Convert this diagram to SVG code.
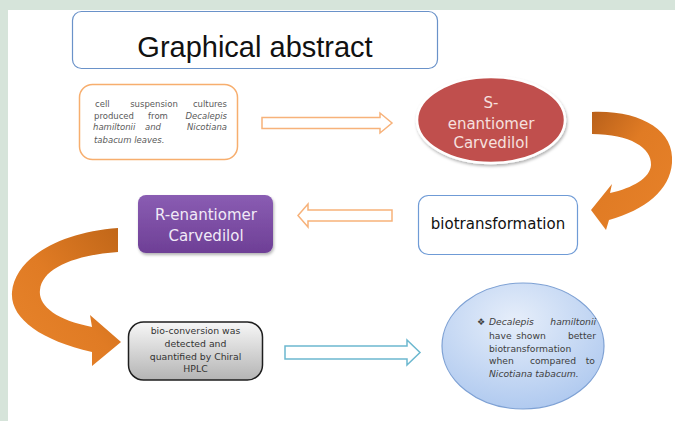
<svg xmlns="http://www.w3.org/2000/svg" width="675" height="421" viewBox="0 0 675 421">
<defs>
<style>
.sm{font-family:"DejaVu Sans",sans-serif;font-size:8.5px;fill:#5a5a5a}
.el{font-family:"DejaVu Sans",sans-serif;font-size:9.2px;fill:#404040}
.big{font-family:"DejaVu Sans",sans-serif;font-size:15px}
.it{font-style:italic}
.hollowO{fill:#fff;stroke:#f7b27a;stroke-width:1.5}
.hollowB{fill:#fff;stroke:#6cb8cf;stroke-width:1.5}
</style>
<linearGradient id="orgR" x1="0" y1="0" x2="1" y2="1">
<stop offset="0" stop-color="#b8601a"/><stop offset="0.4" stop-color="#e07b24"/><stop offset="1" stop-color="#e8822a"/>
</linearGradient>
<linearGradient id="orgL" x1="1" y1="0" x2="0" y2="1">
<stop offset="0" stop-color="#c06618"/><stop offset="0.5" stop-color="#e07b24"/><stop offset="1" stop-color="#e8852c"/>
</linearGradient>
<linearGradient id="purp" x1="0" y1="0" x2="0" y2="1">
<stop offset="0" stop-color="#8a5db3"/><stop offset="1" stop-color="#6e3f96"/>
</linearGradient>
<linearGradient id="gray" x1="0" y1="0" x2="0" y2="1">
<stop offset="0" stop-color="#f7f7f7"/><stop offset="1" stop-color="#b4b4b4"/>
</linearGradient>
<radialGradient id="blue" cx="0.45" cy="0.3" r="0.8">
<stop offset="0" stop-color="#e6eefa"/><stop offset="1" stop-color="#a9c5ee"/>
</radialGradient>
<filter id="sh" x="-20%" y="-20%" width="140%" height="150%">
<feDropShadow dx="1" dy="2" stdDeviation="1.5" flood-color="#000" flood-opacity="0.3"/>
</filter>
</defs>
<rect x="0" y="0" width="675" height="421" fill="#d6e4da"/>
<rect x="8" y="10" width="667" height="411" fill="#ffffff"/>

<g id="title">
<rect x="72.5" y="11.5" width="365" height="57" rx="9" fill="#fff" stroke="#6a92c9" stroke-width="1.2"/>
<text x="255" y="57" text-anchor="middle" font-family="Liberation Sans, Arial, sans-serif" font-size="29" fill="#111">Graphical abstract</text>
</g>

<g id="connectors">
<path class="hollowO" d="M262,117.5 L380,117.5 L380,113 L392,123 L380,133 L380,128.5 L262,128.5 Z"/>
<path class="hollowO" d="M392,210 L308,210 L308,204 L298,215.5 L308,227 L308,221 L392,221 Z"/>
<path class="hollowB" d="M285,346 L407,346 L407,340 L420,352.5 L407,365 L407,359 L285,359 Z"/>
<path fill="url(#orgR)" d="M592,112 C640,110 675,130 672,163 C670,190 645,210 609,220 L606,230 L591,210 L612,184 L610,193 C633,188 650,178 651,165 C652,148 630,134 592,134 Z"/>
<path fill="url(#orgL)" d="M118,228 C60,232 15,258 12,292 C10,318 40,340 92,352 L92,366 L121,342 L90,315 L92,327 C55,320 38,305 40,290 C42,268 75,255 118,252 Z"/>
</g>

<g id="cell-cultures">
<rect x="79.5" y="84.5" width="158" height="75" rx="13" fill="#fff" stroke="#f7ae6e" stroke-width="1.5"/>
<text class="sm" x="95" y="107">cell</text>
<text class="sm" x="154" y="107" text-anchor="middle">suspension</text>
<text class="sm" x="227" y="107" text-anchor="end">cultures</text>
<text class="sm" x="94" y="119">produced</text>
<text class="sm" x="158" y="119" text-anchor="middle">from</text>
<text class="sm it" x="227" y="119" text-anchor="end">Decalepis</text>
<text class="sm it" x="93" y="130">hamiltonii</text>
<text class="sm it" x="153" y="130" text-anchor="middle">and</text>
<text class="sm it" x="227" y="130" text-anchor="end">Nicotiana</text>
<text class="sm it" x="94" y="143">tabacum leaves.</text>
</g>

<g id="s-enantiomer">
<ellipse cx="491" cy="120" rx="74" ry="43" fill="#c0504d" stroke="#fff" stroke-width="2.5" filter="url(#sh)"/>
<text class="big" x="491" y="108" text-anchor="middle" fill="#f6e0df">S-</text>
<text class="big" x="491" y="129" text-anchor="middle" fill="#f6e0df">enantiomer</text>
<text class="big" x="491" y="148" text-anchor="middle" fill="#f6e0df">Carvedilol</text>
</g>

<g id="biotransformation">
<rect x="418.5" y="195.5" width="159" height="59" rx="10" fill="#fff" stroke="#6f9bd6" stroke-width="1.2"/>
<text class="big" x="498" y="229" text-anchor="middle" fill="#111">biotransformation</text>
</g>

<g id="r-enantiomer">
<rect x="138" y="195" width="135" height="58" rx="8" fill="url(#purp)" filter="url(#sh)"/>
<text class="big" x="206" y="220" text-anchor="middle" fill="#f1eaf7">R-enantiomer</text>
<text class="big" x="206" y="241" text-anchor="middle" fill="#f1eaf7">Carvedilol</text>
</g>

<g id="bioconversion">
<rect x="128.5" y="322" width="134" height="58" rx="15" fill="url(#gray)" stroke="#1e1e1e" stroke-width="1.5"/>
<text x="195.5" y="334" text-anchor="middle" font-family="DejaVu Sans, sans-serif" font-size="9.3" fill="#333">bio-conversion  was</text>
<text x="195.5" y="347" text-anchor="middle" font-family="DejaVu Sans, sans-serif" font-size="9.3" fill="#333">detected and</text>
<text x="195.5" y="360" text-anchor="middle" font-family="DejaVu Sans, sans-serif" font-size="9.3" fill="#333">quantified by Chiral</text>
<text x="195.5" y="372" text-anchor="middle" font-family="DejaVu Sans, sans-serif" font-size="9.3" fill="#333">HPLC</text>
</g>

<g id="result">
<ellipse cx="523" cy="346" rx="81" ry="63" fill="url(#blue)" stroke="#7ea1d4" stroke-width="1.2"/>
<text class="el" x="477" y="325" font-size="8">❖</text>
<text class="el it" x="489" y="325">Decalepis</text>
<text class="el it" x="596" y="325" text-anchor="end">hamiltonii</text>
<text class="el" x="489" y="339">have</text>
<text class="el" x="531" y="339" text-anchor="middle">shown</text>
<text class="el" x="596" y="339" text-anchor="end">better</text>
<text class="el" x="489" y="352">biotransformation</text>
<text class="el" x="489" y="364">when</text>
<text class="el" x="553" y="364" text-anchor="middle">compared</text>
<text class="el" x="595" y="364" text-anchor="end">to</text>
<text class="el it" x="489" y="377">Nicotiana tabacum.</text>
</g>
</svg>
